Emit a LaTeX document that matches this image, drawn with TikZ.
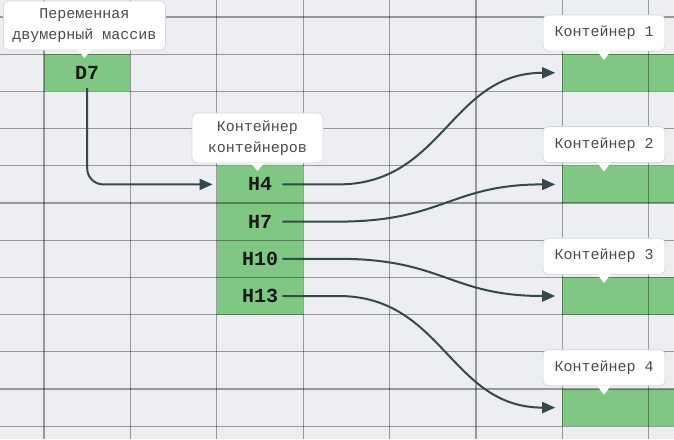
\documentclass[tikz,border=0pt]{standalone}
\usepackage{fontspec}
\setmonofont{Liberation Mono}
\usetikzlibrary{arrows.meta,calc}
\definecolor{bg}{HTML}{ECEEF1}
\definecolor{cellgreen}{HTML}{81C784}
\definecolor{arrowc}{HTML}{37474F}
\definecolor{calltext}{HTML}{4A4A4A}
\definecolor{callborder}{HTML}{D5D9DE}
\begin{document}
\begin{tikzpicture}[x=1pt,y=-1pt,
  cell/.style={rectangle, fill=cellgreen, minimum width=86.4pt, minimum height=37.2pt, inner sep=0pt,
    font=\ttfamily\bfseries\fontsize{20}{20}\selectfont, text=black!90},
  gridline/.style={draw=black, draw opacity=0.36, line width=1.05pt},
  callout/.style={rectangle, rounded corners=5pt, fill=white, draw=callborder, line width=0.8pt,
    align=center, inner sep=0pt, font=\ttfamily\fontsize{15}{20.5}\selectfont, text=calltext},
  pointer/.style={fill=white},
  link/.style={draw=arrowc, line width=2pt, -{Triangle[length=13pt,width=11pt]}},
]
\useasboundingbox[fill=bg] (0,0) rectangle (674,439);
\clip (0,0) rectangle (674,439);

% green cells
\node[cell] (d7)  at (87.2,72.8)  {D7};
\node[cell] (h4)  at (260,184.4)  {H4};
\node[cell] (h7)  at (260,221.6)  {H7};
\node[cell] (h10) at (260,258.8)  {H10};
\node[cell] (h13) at (260,296.0)  {H13};

\node[cell] (c1)  at (605.6,72.8)  {};
\node[cell] (c1b) at (692,72.8)    {};
\node[cell] (c2)  at (605.6,184.4) {};
\node[cell] (c2b) at (692,184.4)   {};
\node[cell] (c3)  at (605.6,296.0) {};
\node[cell] (c3b) at (692,296.0)   {};
\node[cell] (c4)  at (605.6,407.6) {};
\node[cell] (c4b) at (692,407.6)   {};

% grid
\foreach \k in {0,...,7} {
  \draw[gridline] ({44+86.4*\k},0) -- ({44+86.4*\k},439);
}
\foreach \k in {0,...,11} {
  \draw[gridline] (0,{17+37.2*\k}) -- (674,{17+37.2*\k});
}

% connectors
\coordinate (d7s) at ($(d7.center)+(0,15)$);
\coordinate (h4e) at ($(h4.west)+(-4,0)$);
\draw[link, rounded corners=16pt] (d7s) |- (h4e);

\coordinate (h4s)  at ($(h4.east)+(-21,0)$);
\coordinate (h7s)  at ($(h7.east)+(-21,0)$);
\coordinate (h10s) at ($(h10.east)+(-21,0)$);
\coordinate (h13s) at ($(h13.east)+(-21,0)$);
\coordinate (c1e) at ($(c1.west)+(-7,0)$);
\coordinate (c2e) at ($(c2.west)+(-7,0)$);
\coordinate (c3e) at ($(c3.west)+(-7,0)$);
\coordinate (c4e) at ($(c4.west)+(-7,0)$);

\draw[link] (h4s) -- ++(56,0) coordinate (m1) .. controls ($(m1)+(105,0)$) and ($(c1e)+(-105,0)$) .. (c1e);
\draw[link] (h7s) -- ++(56,0) coordinate (m2) .. controls ($(m2)+(105,0)$) and ($(c2e)+(-105,0)$) .. (c2e);
\draw[link] (h10s) -- ++(56,0) coordinate (m3) .. controls ($(m3)+(105,0)$) and ($(c3e)+(-105,0)$) .. (c3e);
\draw[link] (h13s) -- ++(56,0) coordinate (m4) .. controls ($(m4)+(105,0)$) and ($(c4e)+(-105,0)$) .. (c4e);

% callouts
\node[callout, minimum width=162pt, minimum height=49pt] (lab0) at (84.5,25.5) {Переменная\\двумерный массив};
\fill[pointer] ($(lab0.south)+(-7,-0.6)$) -- ($(lab0.south)+(0,7.5)$) -- ($(lab0.south)+(7,-0.6)$) -- cycle;

\node[callout, minimum width=131pt, minimum height=50pt] (labh) at (257.5,138) {Контейнер\\контейнеров};
\fill[pointer] ($(labh.south)+(-7,-0.6)$) -- ($(labh.south)+(0,7.5)$) -- ($(labh.south)+(7,-0.6)$) -- cycle;

\node[callout, minimum width=122pt, minimum height=36pt] (lab1) at (604,33.0) {Контейнер 1};
\node[callout, minimum width=122pt, minimum height=36pt] (lab2) at (604,144.6) {Контейнер 2};
\node[callout, minimum width=122pt, minimum height=36pt] (lab3) at (604,256.2) {Контейнер 3};
\node[callout, minimum width=122pt, minimum height=36pt] (lab4) at (604,367.8) {Контейнер 4};
\foreach \l in {lab1,lab2,lab3,lab4} {
  \fill[pointer] ($(\l.south)+(-7,-0.6)$) -- ($(\l.south)+(0,8.5)$) -- ($(\l.south)+(7,-0.6)$) -- cycle;
}
\end{tikzpicture}
\end{document}
